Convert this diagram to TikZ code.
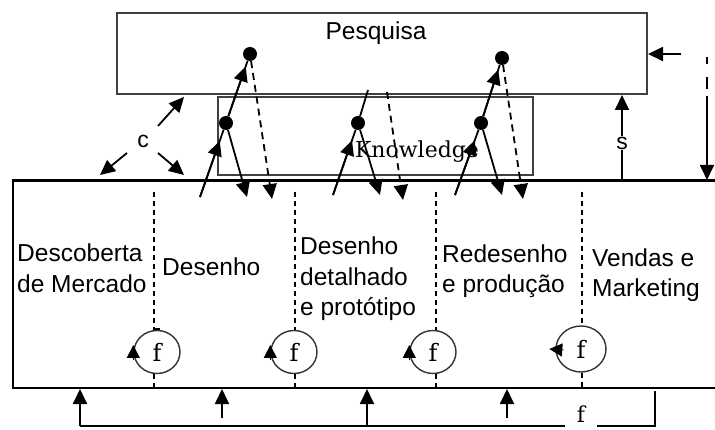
\documentclass[tikz,border=0pt]{standalone}
\usepackage{fontspec}
\newfontfamily\arialf{Liberation Sans}
\newfontfamily\serf{DejaVu Serif}
\usetikzlibrary{arrows.meta,calc,shapes.geometric}
\begin{document}
\begin{tikzpicture}[x=1pt,y=-1pt,
  boxg/.style={draw=black!75, line width=2pt, inner sep=0pt},
  arr/.style={-{Triangle[length=15pt,width=14pt]}, line width=1.8pt},
  plain/.style={line width=1.8pt},
  dasharr/.style={-{Triangle[length=15pt,width=14pt]}, line width=1.8pt, dash pattern=on 7pt off 5pt},
  divider/.style={line width=1.5pt, dash pattern=on 5pt off 4pt},
  dot/.style={circle, fill=black, inner sep=0pt, minimum size=14pt},
  lbl/.style={font=\arialf\fontsize{24.5}{30.5}\selectfont, align=left, inner sep=0pt, anchor=west},
  small/.style={font=\arialf\fontsize{23}{23}\selectfont, inner sep=1pt},
  fcirc/.style={ellipse, draw=black!80, line width=1.4pt, minimum width=46pt, minimum height=43pt, inner sep=0pt, font=\serf\fontsize{24}{24}\selectfont},
  carr/.style={-{Triangle[length=13pt,width=13pt]}, line width=1pt},
]
\fill[white] (0,0) rectangle (715,430);
\useasboundingbox (0,0) rectangle (715,430);

% boxes
\node[boxg, minimum width=315pt, minimum height=78pt] (know) at (375.5,136) {};
\node[boxg, minimum width=530pt, minimum height=81pt] (pesq) at (382,53.5) {};
\node[font=\arialf\fontsize{24.5}{24.5}\selectfont, inner sep=0pt] (pesqT) at (376,33) {Pesquisa};
\node[font=\serf\fontsize{22}{22}\selectfont, inner sep=0pt] (knowT) at (417,152) {Knowledge};

% main box
\draw[line width=1.6pt] (715,388) -- (13,388) -- (13,181);
\draw[line width=3pt] (12,181) -- (715,181);

% loop set 1
\node[dot] (pd1) at (250,54) {};
\node[dot] (kd1) at (226,123) {};
\coordinate (s1) at (200,197);
\coordinate (e1) at (247,197);
\coordinate (de1) at (272,199);
\draw[plain] (s1) -- (kd1) -- (pd1);
\draw[arr] (s1) -- ($(s1)!0.76!(kd1)$);
\draw[arr] (kd1) -- ($(kd1)!0.82!(pd1)$);
\draw[arr] (kd1) -- (e1);
\draw[dasharr] (pd1) -- (de1);

% loop set 2
\node[dot] (kd2) at (358,123) {};
\coordinate (t2) at (368,90);
\coordinate (s2) at (333,195);
\coordinate (e2) at (380,195);
\coordinate (dt2) at (387,92);
\coordinate (de2) at (403,200);
\draw[plain] (s2) -- (kd2) -- (t2);
\draw[arr] (s2) -- ($(s2)!0.76!(kd2)$);
\draw[arr] (kd2) -- (e2);
\draw[dasharr] (dt2) -- (de2);

% loop set 3
\node[dot] (pd3) at (502,58) {};
\node[dot] (kd3) at (481,123) {};
\coordinate (s3) at (455,195);
\coordinate (e3) at (502,195);
\coordinate (de3) at (523,199);
\draw[plain] (s3) -- (kd3) -- (pd3);
\draw[arr] (s3) -- ($(s3)!0.76!(kd3)$);
\draw[arr] (kd3) -- ($(kd3)!0.82!(pd3)$);
\draw[arr] (kd3) -- (e3);
\draw[dasharr] (pd3) -- (de3);

% c arrows
\node[small] (c) at (143,141) {c};
\coordinate (c1) at (184,97);
\coordinate (c2) at (100,175);
\coordinate (c3) at (184,175);
\draw[arr] (158,126) -- (c1);
\draw[arr] (127,153) -- (c2);
\draw[arr] (158,153) -- (c3);

% s arrow
\node[small] (s) at (622,143) {s};
\coordinate (sb) at (622,181);
\coordinate (st) at (622,95);
\draw[line width=1.8pt] (sb) -- (s);
\draw[arr] (s) -- (st);

% right arrows
\coordinate (ra) at (681,54);
\draw[arr] (ra) -- (pesq.east |- ra);
\coordinate (vd0) at (707,57);
\coordinate (vd1) at (707,92);
\coordinate (vd2) at (707,96);
\coordinate (vd3) at (707,180);
\draw[line width=1.8pt, dash pattern=on 7pt off 13pt on 12pt off 20pt] (vd0) -- (vd1);
\draw[arr] (vd2) -- (vd3);

% dividers and feedback circles
\node[fcirc] (f1) at (157,352) {f};
\node[fcirc] (f2) at (294,352) {f};
\node[fcirc] (f3) at (433,352) {f};
\node[fcirc, minimum width=50pt, minimum height=46pt] (f4) at (581,349) {f};
\coordinate (dv1) at (154,192);
\coordinate (dv2) at (295,192);
\coordinate (dv3) at (436,192);
\coordinate (dv4) at (582,192);
\coordinate (db1) at (154,388);
\coordinate (db2) at (295,388);
\coordinate (db3) at (436,388);
\coordinate (db4) at (582,388);
\foreach \i in {1,3,4}{
  \draw[divider] (dv\i) -- (dv\i |- f\i.north);
  \draw[divider] (db\i |- f\i.south) -- (db\i);
}
\draw[line width=2.5pt, dash pattern=on 5pt off 4pt] (dv2) -- (dv2 |- f2.north);
\draw[line width=2.5pt, dash pattern=on 5pt off 4pt] (db2 |- f2.south) -- (db2);
\draw[line width=1.2pt] (154,329) -- (160,329);
\foreach \ff in {f1,f2,f3}{
  \draw[carr] ([yshift=-8pt]\ff.west) -- ([yshift=7pt]\ff.west);
}
\draw[carr] ([xshift=8pt,yshift=-1pt]f4.west) -- ([xshift=-6pt,yshift=0pt]f4.west);

% stage labels
\node[lbl] (l1) at (17,268) {Descoberta\\de Mercado};
\node[lbl] (l2) at (162,267) {Desenho};
\node[lbl] (l3) at (300,279) {Desenho\\detalhado\\e protótipo};
\node[lbl] (l4) at (442,271) {Redesenho\\e produção};
\node[lbl] (l5) at (592,275) {Vendas e\\Marketing};

% bottom feedback
\node[font=\serf\fontsize{22}{22}\selectfont, inner sep=0pt, minimum width=32pt] (fb) at (581,414) {f};
\coordinate (b1) at (80,426);
\coordinate (b2) at (222,418);
\coordinate (b3) at (367,426);
\coordinate (b4) at (507,418);
\coordinate (br) at (655,426);
\coordinate (brt) at (655,391);
\coordinate (a1) at (80,389);
\coordinate (a2) at (222,389);
\coordinate (a3) at (367,389);
\coordinate (a4) at (507,389);
\draw[line width=1.6pt] (b1) -- (b1 -| fb.west);
\draw[line width=1.6pt] (br -| fb.east) -- (br) -- (brt);
\draw[arr] (b1) -- (a1);
\draw[arr] (b2) -- (a2);
\draw[arr] (b3) -- (a3);
\draw[arr] (b4) -- (a4);
\end{tikzpicture}
\end{document}
